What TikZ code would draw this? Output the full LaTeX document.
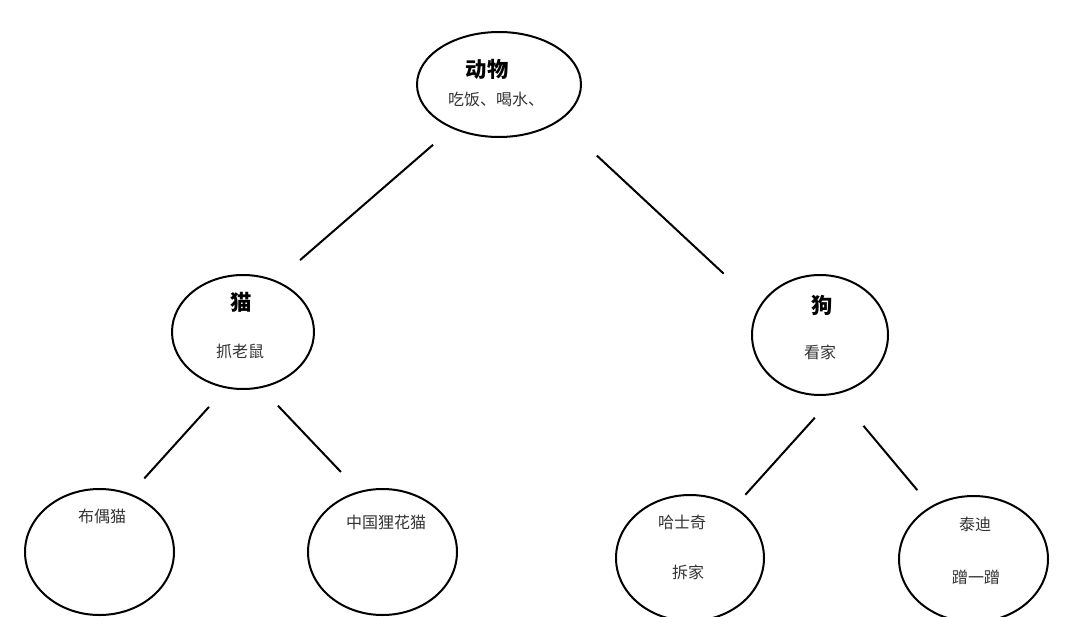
\documentclass[tikz,border=0pt]{standalone}
\usepackage{fontspec}
\setmainfont{Noto Sans CJK SC}
\usepackage{tikz}
\usetikzlibrary{shapes.geometric}
\usepackage{xcolor}
\definecolor{TextGrey}{HTML}{333333}

\begin{document}
\begin{tikzpicture}[
    x=0.75pt, y=-0.75pt,
    every node/.style={
        inner sep=0pt
    },
    bubble/.style={
        ellipse,
        draw=black,
        line width=1.5pt
    },
    title/.style={
        font=\bfseries\fontsize{16}{18}\selectfont,
        text=black
    },
    note/.style={
        font=\fontsize{12}{14}\selectfont,
        text=TextGrey
    },
    link/.style={
        draw=black,
        line width=1.5pt
    }
]

\useasboundingbox (0,0) rectangle (1078,617);
\clip (0,0) rectangle (1078,617);

% ellipses
\node[bubble, minimum width=123pt, minimum height=78.75pt] (animal) at (499,84.5) {};
\node[bubble, minimum width=106.5pt, minimum height=85.5pt] (cat) at (243,332) {};
\node[bubble, minimum width=102pt, minimum height=90pt] (dog) at (820,335) {};
\node[bubble, minimum width=111.75pt, minimum height=94.5pt] (ragdoll) at (99.5,552) {};
\node[bubble, minimum width=111.75pt, minimum height=94.5pt] (lihua) at (382.5,552) {};
\node[bubble, minimum width=111pt, minimum height=94.5pt] (husky) at (690,558) {};
\node[bubble, minimum width=111.75pt, minimum height=94.5pt] (teddy) at (973.5,559) {};

% texts
\node[title] (animal-name) at (487,69) {动物};
\node[note] (animal-does) at (496,99) {吃饭、喝水、};
\node[title] (cat-name) at (241,302) {猫};
\node[note] (cat-does) at (240,351) {抓老鼠};
\node[title] (dog-name) at (822,305) {狗};
\node[note] (dog-does) at (820,352) {看家};
\node[note] (ragdoll-name) at (102,516) {布偶猫};
\node[note] (lihua-name) at (386,522) {中国狸花猫};
\node[note] (husky-name) at (682,522) {哈士奇};
\node[note] (husky-does) at (688,572) {拆家};
\node[note] (teddy-name) at (975,524) {泰迪};
\node[note] (teddy-does) at (976,577) {蹭一蹭};

% links
\draw[link, shorten <=18.6pt, shorten >=23.5pt] (animal.-137.4) -- (cat.57.7);
\draw[link, shorten <=38pt, shorten >=36.2pt] (animal.-31.4) -- (dog.155.2);
\draw[link, shorten <=18.8pt, shorten >=15.4pt] (cat.-107.4) -- (ragdoll.62.3);
\draw[link, shorten <=18.2pt, shorten >=19.8pt] (cat.-72.5) -- (lihua.111.8);
\draw[link, shorten <=23.6pt, shorten >=12pt] (dog.-75.6) -- (husky.49.7);
\draw[link, shorten <=31pt, shorten >=15.7pt] (dog.-74.2) -- (teddy.129);

\end{tikzpicture}
\end{document}
